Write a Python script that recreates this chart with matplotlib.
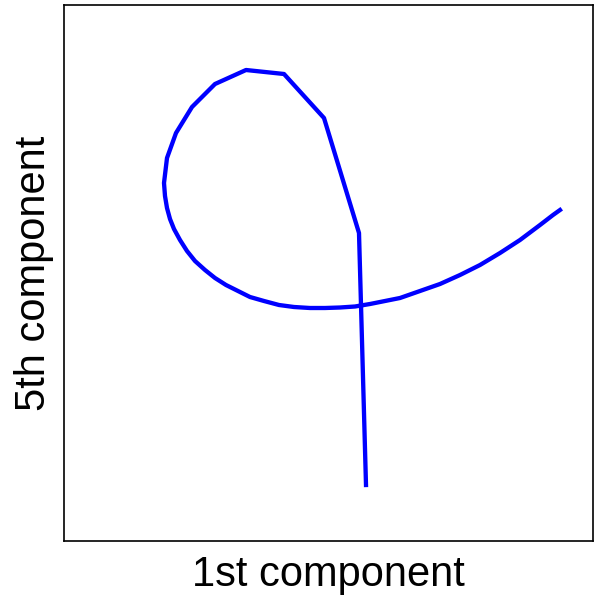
import matplotlib
matplotlib.use("Agg")
import matplotlib.pyplot as plt

# trajectory projected on the 1st and 5th components
comp1 = [0.36, 0.29, -0.06, -0.46, -0.84, -1.15, -1.38, -1.54, -1.63, -1.66,
         -1.65, -1.63, -1.60, -1.56, -1.50, -1.43, -1.35, -1.25, -1.15, -1.04,
         -0.92, -0.80, -0.66, -0.51, -0.36, -0.20, -0.05, 0.10, 0.25, 0.40,
         0.55, 0.70, 0.90, 1.10, 1.30, 1.50, 1.70, 1.90, 2.10, 2.23, 2.30]
comp5 = [-1.85, 0.67, 1.82, 2.26, 2.30, 2.16, 1.93, 1.67, 1.42, 1.17,
         1.04, 0.92, 0.81, 0.71, 0.60, 0.49, 0.39, 0.30, 0.22, 0.15,
         0.09, 0.03, -0.01, -0.05, -0.07, -0.08, -0.08, -0.075, -0.065, -0.04,
         -0.01, 0.02, 0.09, 0.16, 0.25, 0.35, 0.47, 0.60, 0.75, 0.85, 0.90]

plt.rcParams["font.family"] = ["Liberation Sans", "DejaVu Sans"]

fig = plt.figure(figsize=(5.94, 5.96), dpi=100)
ax = fig.add_axes([64 / 594, 55 / 596, 529 / 594, 536 / 596])
ax.plot(comp1, comp5, color="blue", linewidth=3.1)
ax.set_xlim(-2.66, 2.63)
ax.set_ylim(-2.41, 2.95)
ax.set_xticks([])
ax.set_yticks([])
for s in ax.spines.values():
    s.set_linewidth(1.2)
ax.set_xlabel("1st component", fontsize=30, labelpad=10)
ax.set_ylabel("5th component", fontsize=30, labelpad=7)

fig.savefig("out.png", dpi=100)
